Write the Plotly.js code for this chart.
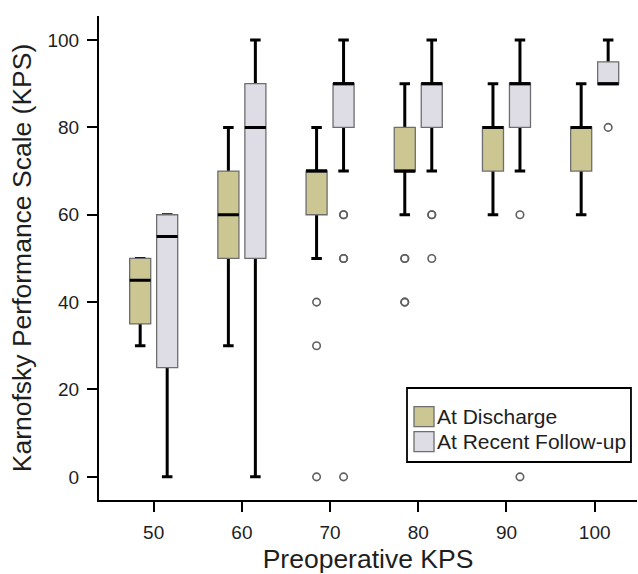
<!DOCTYPE html>
<html>
<head>
<meta charset="utf-8">
<script src="https://cdn.plot.ly/plotly-3.0.1.min.js"></script>
<style>
  html, body { margin: 0; padding: 0; background: #ffffff; }
  #chart { width: 638px; height: 574px; }
</style>
</head>
<body>
<div id="chart"></div>
<script>
// Categories: preoperative KPS
const categories = ['50', '60', '70', '80', '90', '100'];

// At Discharge box statistics
const disQ1     = [35, 50, 60, 70, 70, 70];
const disMedian = [45, 60, 70, 70, 80, 80];
const disQ3     = [50, 70, 70, 80, 80, 80];
const disLower  = [30, 30, 50, 60, 60, 60];
const disUpper  = [50, 80, 80, 90, 90, 90];
const disOutlierX = ['70', '70', '70', '80', '80', '80', '80'];
const disOutlierY = [40, 30, 0, 50, 50, 40, 40];

// At Recent Follow-up box statistics
const fuQ1     = [25, 50, 80, 80, 80, 90];
const fuMedian = [55, 80, 90, 90, 90, 90];
const fuQ3     = [60, 90, 90, 90, 90, 95];
const fuLower  = [0, 0, 70, 70, 70, 90];
const fuUpper  = [60, 100, 100, 100, 100, 100];
const fuOutlierX = ['70', '70', '70', '70', '70', '80', '80', '80', '90', '90', '100'];
const fuOutlierY = [60, 60, 50, 50, 0, 60, 60, 50, 60, 0, 80];

const seriesNames = ['At Discharge', 'At Recent Follow-up'];
const fills = ['#cbc692', '#dedde5'];

const series = [
  {name: seriesNames[0], group: 'd', fill: fills[0], q1: disQ1, med: disMedian, q3: disQ3, lo: disLower, hi: disUpper, ox: disOutlierX, oy: disOutlierY},
  {name: seriesNames[1], group: 'f', fill: fills[1], q1: fuQ1, med: fuMedian, q3: fuQ3, lo: fuLower, hi: fuUpper, ox: fuOutlierX, oy: fuOutlierY}
];

const boxOutline = '#6e6e6e';

const common = {
  type: 'box',
  x: categories,
  alignmentgroup: 'all',
  hoverinfo: 'skip',
  whiskerwidth: 0.5,
  boxpoints: false,
  showlegend: false
};

const traces = [];
// 1) whiskers (thick black), drawn first
series.forEach(s => {
  traces.push(Object.assign({}, common, {
    name: s.name, offsetgroup: s.group,
    q1: s.med, median: s.med, q3: s.med, lowerfence: s.lo, upperfence: s.hi,
    line: {color: '#000000', width: 3}, fillcolor: 'rgba(0,0,0,0)'
  }));
});
// 2) filled boxes with thin grey outline
series.forEach(s => {
  traces.push(Object.assign({}, common, {
    name: s.name, offsetgroup: s.group,
    q1: s.q1, median: s.med, q3: s.q3, lowerfence: s.q1, upperfence: s.q3,
    line: {color: boxOutline, width: 1.3}, fillcolor: s.fill
  }));
});
// 3) thick black medians
series.forEach(s => {
  traces.push(Object.assign({}, common, {
    name: s.name, offsetgroup: s.group,
    q1: s.med, median: s.med, q3: s.med, lowerfence: s.med, upperfence: s.med,
    line: {color: '#000000', width: 3}, fillcolor: 'rgba(0,0,0,0)'
  }));
});
// 4) outliers
series.forEach(s => {
  traces.push({
    type: 'box', x: s.ox, y: s.oy, name: s.name,
    alignmentgroup: 'all', offsetgroup: s.group, showlegend: false,
    hoverinfo: 'skip',
    boxpoints: 'all', jitter: 0, pointpos: 0,
    line: {color: 'rgba(0,0,0,0)', width: 0}, fillcolor: 'rgba(0,0,0,0)',
    whiskerwidth: 0,
    marker: {symbol: 'circle-open', size: 7.5, color: '#606060', line: {width: 1.6, color: '#606060'}}
  });
});

const fontFamily = '"Liberation Sans", Arial, Helvetica, sans-serif';
const textColor = '#1e1e1e';

// Legend box (framed key, in paper coordinates)
const legendFrame = {x0: 0.5725, x1: 0.9888, y0: 0.0785, y1: 0.2314};
const keyX0 = 0.5855, keyX1 = 0.6227, keyH = 0.0413;
const keyTops = [0.1928, 0.1411];
const shapes = [{
  type: 'rect', xref: 'paper', yref: 'paper',
  x0: legendFrame.x0, x1: legendFrame.x1, y0: legendFrame.y0, y1: legendFrame.y1,
  line: {color: '#000000', width: 1.8}, fillcolor: '#ffffff', layer: 'above'
}];
const annotations = [];
series.forEach((s, i) => {
  shapes.push({
    type: 'rect', xref: 'paper', yref: 'paper',
    x0: keyX0, x1: keyX1, y0: keyTops[i] - keyH, y1: keyTops[i],
    line: {color: boxOutline, width: 1.3}, fillcolor: s.fill, layer: 'above'
  });
  annotations.push({
    xref: 'paper', yref: 'paper', x: keyX1, y: keyTops[i] - keyH / 2,
    xanchor: 'left', yanchor: 'middle', showarrow: false, xshift: 1,
    text: s.name, font: {size: 21, family: fontFamily, color: textColor}
  });
});

const layout = {
  width: 638, height: 574,
  paper_bgcolor: '#ffffff', plot_bgcolor: '#ffffff',
  margin: {l: 99, r: 1, t: 16, b: 74, pad: 0},
  font: {family: fontFamily, color: textColor},
  boxmode: 'group',
  boxgap: 0.388,
  boxgroupgap: 0.22,
  showlegend: false,
  xaxis: {
    type: 'category',
    categoryorder: 'array', categoryarray: categories,
    range: [-0.62, 5.48],
    showline: true, linecolor: '#000000', linewidth: 2,
    ticks: 'outside', ticklen: 10, tickwidth: 2, tickcolor: '#000000',
    ticklabelstandoff: 4,
    tickfont: {size: 19, family: fontFamily, color: textColor},
    showgrid: false, zeroline: false,
    title: {text: 'Preoperative KPS', font: {size: 26.5, family: fontFamily, color: textColor}, standoff: 12},
    fixedrange: true
  },
  yaxis: {
    range: [-5.3, 105.5],
    tickvals: [0, 20, 40, 60, 80, 100],
    showline: true, linecolor: '#000000', linewidth: 2,
    ticks: 'outside', ticklen: 10, tickwidth: 2, tickcolor: '#000000',
    ticklabelstandoff: 4,
    tickfont: {size: 19, family: fontFamily, color: textColor},
    showgrid: false, zeroline: false,
    title: {text: 'Karnofsky Performance Scale (KPS)', font: {size: 26.5, family: fontFamily, color: textColor}, standoff: 8},
    fixedrange: true
  },
  shapes: shapes,
  annotations: annotations
};

Plotly.newPlot('chart', traces, layout, {displayModeBar: false, staticPlot: true});
</script>
</body>
</html>
